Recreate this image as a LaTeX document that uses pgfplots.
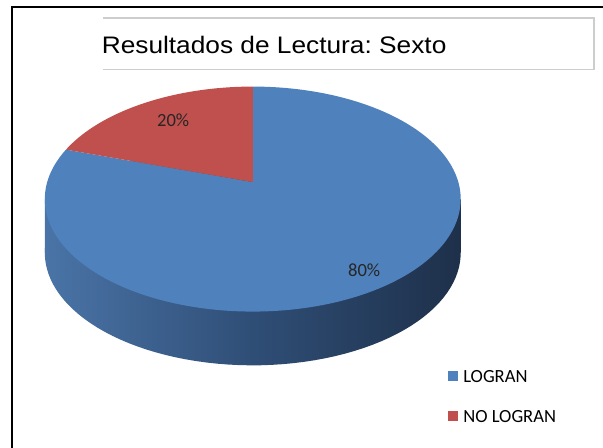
\documentclass[border=0pt]{standalone}
\usepackage{pgfplots}
\pgfplotsset{compat=1.18}
\usepackage{pgfplotstable}
\usepackage{fontspec}
\setmainfont{Carlito}
\newfontfamily\arialfont{Liberation Sans}
\definecolor{pieblue}{RGB}{79,129,189}
\definecolor{piered}{RGB}{192,80,77}
\definecolor{sidel}{RGB}{74,116,167}
\definecolor{sidem}{RGB}{47,78,118}
\definecolor{sider}{RGB}{30,48,74}
\definecolor{boxgray}{RGB}{205,205,205}

\pgfplotstableread{
cat value
LOGRAN 80
NOLOGRAN 20
}\piedata

\begin{document}
\frenchspacing
\pgfplotstablegetelem{1}{value}\of\piedata
\pgfmathsetmacro{\angR}{90+3.6*\pgfplotsretval}
\begin{tikzpicture}
\begin{axis}[
  width=452.25pt, height=337.5pt, scale only axis,
  xmin=0, xmax=603, ymin=0, ymax=450, y dir=reverse,
  hide axis, clip=true,
  legend style={at={(axis cs:447,372)}, anchor=north west, draw=none, fill=none,
    font=\fontsize{14}{16}\selectfont, inner sep=0pt, row sep=21pt,
    nodes={inner sep=0pt, text height=9pt, text depth=0pt},
    /tikz/every odd column/.append style={column sep=4pt}},
  legend cell align=left,
  legend image code/.code={\fill[#1] (0pt,-3.75pt) rectangle (7.5pt,3.75pt);},
]
% outer frame (top and left)
\addplot[forget plot, black, line width=1.6pt] coordinates {(9,452) (9,7) (605,7)};
% title box
\addplot[forget plot, boxgray, line width=1.1pt] coordinates {(100,18) (594,18) (594,70) (100,70)};
\node[anchor=base west, font=\arialfont\fontsize{18}{20}\selectfont, xscale=1.1, inner sep=0pt]
  at (axis cs:99,54) {Resultados de Lectura:\ Sexto};
% side of the pie
\addplot[forget plot, draw=none, left color=sidel, right color=sider, middle color=sidem,
  domain=0:360, samples=140, variable=\t]
  ({251+206.6*cos(\t)/(1+0.151*sin(\t))}, {237-110.5*sin(\t)/(1+0.151*sin(\t))}) -- cycle;
\addplot[forget plot, draw=none, left color=sidel, right color=sider, middle color=sidem]
  coordinates {(42,200) (460,200) (460,254) (42,254)} -- cycle;
% top faces
\addplot[fill=pieblue, draw=none, domain=\angR:450, samples=160, variable=\t]
  ({251+206.6*cos(\t)/(1+0.151*sin(\t))}, {183-110.5*sin(\t)/(1+0.151*sin(\t))}) -- (axis cs:251,183) -- cycle;
\addlegendentry{LOGRAN}
\addplot[fill=piered, draw=none, domain=90:\angR, samples=50, variable=\t]
  ({251+206.6*cos(\t)/(1+0.151*sin(\t))}, {183-110.5*sin(\t)/(1+0.151*sin(\t))}) -- (axis cs:251,183) -- cycle;
\addlegendentry{NO LOGRAN}
% data labels
\node[font=\fontsize{14}{16}\selectfont, text=black!85] at (axis cs:171,121) {20\%};
\node[font=\fontsize{14}{16}\selectfont, text=black!85] at (axis cs:363,272) {80\%};
\end{axis}
\pgfresetboundingbox
\path (current axis.south west) rectangle (current axis.north east);
\end{tikzpicture}
\end{document}
